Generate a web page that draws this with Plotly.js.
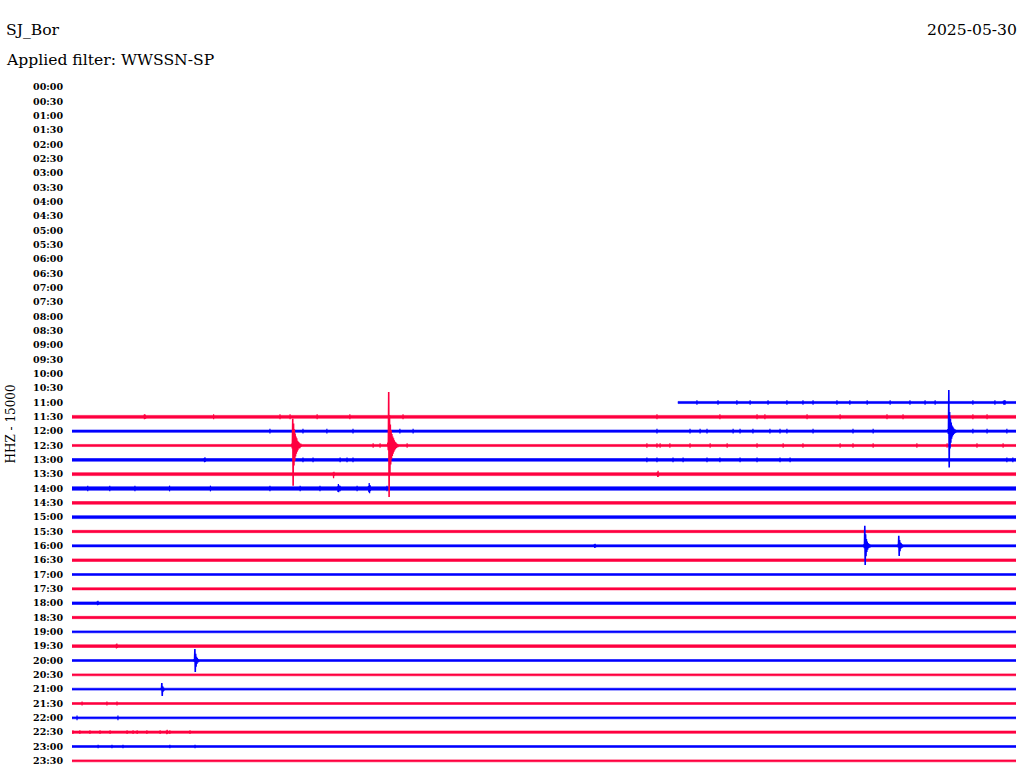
<!DOCTYPE html>
<html><head><meta charset="utf-8">
<script src="https://cdn.plot.ly/plotly-3.0.1.min.js"></script>
<style>html,body{margin:0;padding:0;background:#fff}#chart{width:1024px;height:780px}</style>
</head><body><div id="chart"></div>
<script>
// ---- data ----
const station = 'SJ_Bor';
const dateLabel = '2025-05-30';
const filterName = 'WWSSN-SP';
const channelLabel = 'HHZ - 15000';
const countsPerRow = 15000;
const minutesPerRow = 30;
const rowLabels = ['00:00','00:30','01:00','01:30','02:00','02:30','03:00','03:30','04:00','04:30',
  '05:00','05:30','06:00','06:30','07:00','07:30','08:00','08:30','09:00','09:30',
  '10:00','10:30','11:00','11:30','12:00','12:30','13:00','13:30','14:00','14:30',
  '15:00','15:30','16:00','16:30','17:00','17:30','18:00','18:30','19:00','19:30',
  '20:00','20:30','21:00','21:30','22:00','22:30','23:00','23:30'];
const firstDataRow = 22;        // 11:00 row
const firstDataMinute = 19.26;  // record starts 11:19
// half-width of background noise per row (counts), rows 11:00 .. 23:30
const rowNoise = [1100,1500,1200,1100,1400,1500,1800,1400,1500,1200,
                  1100,1300,1000,1100,1300,1200,1000,1400,1000,1000,
                  1000,1000,1000,1200,1000,1000];
const sampleStep = 0.0125; // minutes per sample
const events = [
  {row:25, minute:6.99, samples:[2000,-3000,28000,-42000,23000,-21000,17000,-16000,12500,-11500,9500,-8500,7500,-6500,5000,-5000,4000,-3000,3000,-3000,2000,-2000,2000,-1000]},
  {row:25, minute:10.04, samples:[3000,-5000,56000,-54000,32000,-30000,22000,-20000,16000,-14000,12000,-11000,9500,-8500,7500,-6500,5500,-5000,4000,-3500,3000,-2500,2000,-2000,1500,-1500]},
  {row:24, minute:27.84, samples:[2000,-3000,43000,-38000,20000,-18000,13000,-12000,9000,-8000,6000,-5500,4500,-4000,3000,-3000,2000,-2000,1500,-1500]},
  {row:32, minute:25.17, samples:[1500,-2500,21000,-20000,12000,-11000,7000,-6500,4500,-4000,3000,-2500,2000,-2000,1500,-1500]},
  {row:32, minute:26.25, samples:[1000,-1500,10500,-10500,6000,-5500,3500,-3000,2500,-2000,1500,-1500]},
  {row:40, minute:3.88, samples:[1000,-1500,12000,-12000,7000,-6500,4000,-3500,2500,-2000,1500,-1500]},
  {row:42, minute:2.83, samples:[800,-1000,6500,-7000,3000,-2500,1500,-1500]}
];
// smaller noise bursts
const bursts = [
  {row:28, minute:8.44, samples:[2000,-3500,4800,-4000,3000,-2000]},
  {row:28, minute:9.42, samples:[2500,-4000,5800,-5000,3500,-2500]},
  {row:27, minute:18.60, samples:[2000,-3000,3500,-2500]},
  {row:27, minute:8.30, samples:[1500,-4200,2500,-1500]},
  {row:32, minute:16.60, samples:[1500,-2200,2200,-1500]},
  {row:22, minute:29.60, samples:[1800,-2200,2400,-2000,1800]},
  {row:26, minute:4.20, samples:[1500,-2400,2600,-1800]},
  {row:23, minute:2.30, samples:[1800,-2200,2500,-1800]},
  {row:39, minute:1.40, samples:[1500,-2500,2800,-1800]},
  {row:45, minute:3.00, samples:[1500,-2200,2400,-1600]},
  {row:36, minute:0.80, samples:[1500,-2200,2400,-1600]}
];
// isolated noise spikes: row -> minutes, with a peak amplitude per row (counts)
const spikeRows = [22, 23, 24, 25, 26, 28, 43, 44, 45, 46];
const spikeAmp  = [2300, 2600, 2400, 2300, 2400, 3000, 2000, 2500, 2000, 1800];
const spikeMinutes = [
  [19.86,20.53,21.13,21.55,22.12,22.72,23.23,23.55,24.31,24.72,25.27,26.00,26.63,27.11,27.43,28.63,29.33,29.65],
  [2.30,4.50,6.61,6.93,7.79,8.83,10.52,18.59,20.59,21.77,22.02,23.36,24.41,25.90,26.41,28.63,29.08],
  [6.29,7.34,8.10,8.93,10.42,10.84,18.59,19.64,19.96,20.18,21.01,21.23,21.64,22.18,22.50,22.72,23.55,24.82,25.46,28.63,29.08,29.71],
  [9.57,9.79,10.65,18.27,18.59,18.69,19.00,19.64,20.28,20.82,21.77,22.60,23.23,24.41,24.82,25.46,26.85,27.81,28.76,29.59],
  [7.34,7.66,8.52,8.74,8.93,18.27,18.59,19.10,19.42,20.18,20.59,21.23,21.77,22.50,22.82,29.71,29.90],
  [0.50,1.20,2.00,3.10,4.40,6.29,7.25,7.88,8.52,9.06,9.47,10.01],
  [0.32,1.11,1.43],
  [0.16,1.46],
  [0.03,0.25,0.57,0.89,1.21,1.75,1.94,2.07,2.38,2.80,3.11,3.75],
  [0.83,1.27,1.62,3.11,3.91]
];

// ---- drawing ----
const RED = '#ff0040', BLUE = '#0000ff';
const colorOf = r => (r % 2 === 0 ? BLUE : RED);
const traces = [];
rowNoise.forEach((n, k) => {
  const r = firstDataRow + k;
  const o = -r * countsPerRow;
  const s = (r === firstDataRow) ? firstDataMinute : 0;
  traces.push({
    type:'scatter', mode:'lines', x:[s, minutesPerRow, minutesPerRow, s, s],
    y:[o+n, o+n, o-n, o-n, o+n], fill:'toself', fillcolor:colorOf(r),
    line:{color:colorOf(r), width:0.6}, hoverinfo:'skip', showlegend:false
  });
});
spikeRows.forEach((r, k) => {
  const o = -r * countsPerRow, a = spikeAmp[k];
  const xs = [], ys = [];
  spikeMinutes[k].forEach(m => { xs.push(m, m, null); ys.push(o + a, o - a, null); });
  traces.push({type:'scatter', mode:'lines', x:xs, y:ys, connectgaps:false,
    line:{color:colorOf(r), width:1.2}, hoverinfo:'skip', showlegend:false});
});
function addWave(ev, width) {
  const o = -ev.row * countsPerRow;
  const xs = [ev.minute - sampleStep], ys = [o];
  ev.samples.forEach((v, k) => { xs.push(ev.minute + k * sampleStep); ys.push(o + v); });
  xs.push(ev.minute + ev.samples.length * sampleStep); ys.push(o);
  traces.push({type:'scatter', mode:'lines', x:xs, y:ys,
    line:{color:colorOf(ev.row), width:width}, hoverinfo:'skip', showlegend:false});
}
events.forEach(ev => addWave(ev, 1.6));
bursts.forEach(ev => addWave(ev, 1.2));

const serif = '"DejaVu Serif", "Liberation Serif", serif';
const layout = {
  width:1024, height:780,
  margin:{l:72, r:8, t:80, b:12},
  paper_bgcolor:'#ffffff', plot_bgcolor:'#ffffff',
  showlegend:false,
  xaxis:{range:[0, minutesPerRow], visible:false, fixedrange:true},
  yaxis:{
    range:[-47.5*countsPerRow, 0.5*countsPerRow],
    tickvals: rowLabels.map((_, i) => -i * countsPerRow),
    ticktext: rowLabels,
    ticks:'', showgrid:false, zeroline:false, showline:false,
    ticklabelstandoff:8,
    tickfont:{family:serif, size:9.5, color:'#000', weight:'bold'},
    title:{text:channelLabel, font:{family:serif, size:12, color:'#000'}, standoff:14},
    fixedrange:true
  },
  annotations:[
    {xref:'paper', yref:'paper', x:-0.0720, y:1.0723, xanchor:'left', yanchor:'middle',
     text:station, showarrow:false, font:{family:serif, size:15.6, color:'#000'}},
    {xref:'paper', yref:'paper', x:-0.0720, y:1.0286, xanchor:'left', yanchor:'middle',
     text:'Applied filter: ' + filterName, showarrow:false, font:{family:serif, size:15.6, color:'#000'}},
    {xref:'paper', yref:'paper', x:1.0032, y:1.0723, xanchor:'right', yanchor:'middle',
     text:dateLabel, showarrow:false, font:{family:serif, size:15.6, color:'#000'}}
  ]
};
Plotly.newPlot('chart', traces, layout, {displayModeBar:false, staticPlot:true});
</script>
</body></html>
